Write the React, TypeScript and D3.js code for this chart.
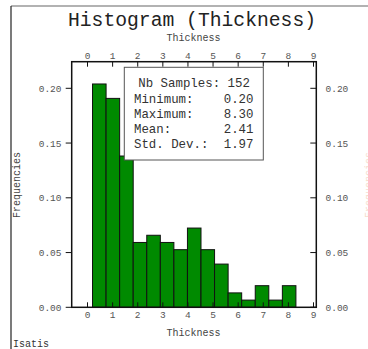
import React from "react";
import { scaleLinear, range } from "d3";

// histogram of Thickness, 15 classes from 0.20 to 8.30
const binStart = 0.2;
const binWidth = 0.54;
const counts = [31, 29, 21, 9, 10, 9, 8, 11, 8, 6, 2, 1, 3, 1, 3];
const nbSamples = 152;
const xTicks = [0, 1, 2, 3, 4, 5, 6, 7, 8, 9];
const yTicks = [0, 0.05, 0.1, 0.15, 0.2];
const statLabels = ["Minimum:", "Maximum:", "Mean:", "Std. Dev.:"];
const statValues = ["0.20", "8.30", "2.41", "1.97"];

const mono = "'Liberation Mono', 'DejaVu Sans Mono', monospace";

const App = () => {
  const width = 368;
  const height = 349;
  const frame = { left: 71.7, right: 316.3, top: 61.7, bottom: 307.3 };

  const x = scaleLinear().domain([0, 9]).range([87.5, 313.5]);
  const y = scaleLinear().domain([0, 0.2]).range([307.3, 88.3]);

  const bars = counts.map((c, i) => {
    const x0 = binStart + i * binWidth;
    const f = c / nbSamples;
    return (
      <rect
        key={i}
        x={x(x0)}
        y={y(f)}
        width={x(x0 + binWidth) - x(x0)}
        height={y(0) - y(f)}
        fill="#008a00"
        stroke="#111"
        strokeWidth={1}
      />
    );
  });

  const xAxis = xTicks.map((t) => (
    <g key={t}>
      <line x1={x(t)} x2={x(t)} y1={frame.top} y2={frame.top + 5} stroke="#111" />
      <line x1={x(t)} x2={x(t)} y1={frame.bottom} y2={frame.bottom - 5} stroke="#111" />
      <text x={x(t)} y={59} textAnchor="middle" fontSize={9.5} fill="#555" fontFamily={mono}>
        {t}
      </text>
      <text x={x(t)} y={318} textAnchor="middle" fontSize={9.5} fill="#555" fontFamily={mono}>
        {t}
      </text>
    </g>
  ));

  const yAxis = yTicks.map((t) => (
    <g key={t}>
      <line x1={frame.left - 6} x2={frame.left} y1={y(t)} y2={y(t)} stroke="#111" />
      <line x1={frame.right - 6} x2={frame.right} y1={y(t)} y2={y(t)} stroke="#111" />
      <text x={61.5} y={y(t) + 3.5} textAnchor="end" fontSize={9.5} fill="#555" fontFamily={mono}>
        {t.toFixed(2)}
      </text>
      <text x={325.5} y={y(t) + 3.5} textAnchor="start" fontSize={9.5} fill="#555" fontFamily={mono}>
        {t.toFixed(2)}
      </text>
    </g>
  ));

  const box = { x: 124.3, y: 67.3, w: 139, h: 92.7 };
  const rows = range(statLabels.length);

  return (
    <svg
      width={width}
      height={height}
      viewBox={`0 0 ${width} ${height}`}
      style={{ position: "absolute", left: 0, top: 0, background: "#fff" }}
    >
      {/* outer page border */}
      <line x1={11} x2={368} y1={6} y2={6} stroke="#999" strokeWidth={1.5} />
      <line x1={11} x2={11} y1={6} y2={349} stroke="#222" strokeWidth={1.2} />

      <text x={192} y={26} textAnchor="middle" fontSize={19.7} fill="#222" fontFamily={mono}>
        Histogram (Thickness)
      </text>
      <text x={193.5} y={41} textAnchor="middle" fontSize={10} fill="#444" fontFamily={mono}>
        Thickness
      </text>
      <text x={193.5} y={335.5} textAnchor="middle" fontSize={10} fill="#444" fontFamily={mono}>
        Thickness
      </text>
      <text
        transform="translate(19.5,185) rotate(-90)"
        textAnchor="middle"
        fontSize={10}
        fill="#444"
        fontFamily={mono}
      >
        Frequencies
      </text>
      {/* right-hand label, mostly outside the window */}
      <text
        transform="translate(372,185) rotate(-90)"
        textAnchor="middle"
        fontSize={10}
        fill="#e8a070"
        opacity={0.35}
        fontFamily={mono}
      >
        Frequencies
      </text>
      <text x={13} y={346.5} fontSize={10} fill="#333" fontFamily={mono}>
        Isatis
      </text>

      {bars}
      {xAxis}
      {yAxis}

      <rect
        x={frame.left}
        y={frame.top}
        width={frame.right - frame.left}
        height={frame.bottom - frame.top}
        fill="none"
        stroke="#111"
        strokeWidth={1.5}
      />

      {/* statistics box */}
      <rect x={box.x} y={box.y} width={box.w} height={box.h} fill="#fff" stroke="#555" strokeWidth={1} />
      <text x={138.3} y={87.3} fontSize={12.4} fill="#333" fontFamily={mono}>
        {`Nb Samples: ${nbSamples}`}
      </text>
      {rows.map((i) => (
        <g key={i}>
          <text x={134} y={103 + i * 15} fontSize={12.4} fill="#333" fontFamily={mono}>
            {statLabels[i]}
          </text>
          <text x={253.5} y={103 + i * 15} textAnchor="end" fontSize={12.4} fill="#333" fontFamily={mono}>
            {statValues[i]}
          </text>
        </g>
      ))}
    </svg>
  );
};

export default App;
